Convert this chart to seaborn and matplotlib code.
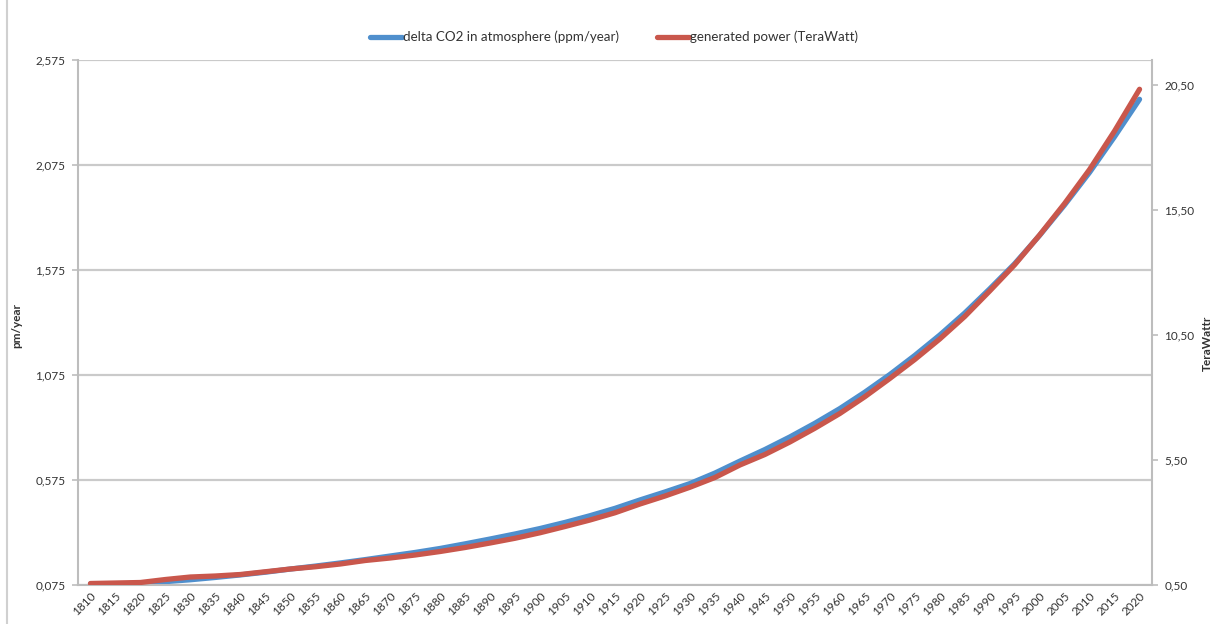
import numpy as np
import pandas as pd
import matplotlib
matplotlib.use("Agg")
import matplotlib.pyplot as plt
import seaborn as sns
from matplotlib.lines import Line2D

# === data ===
years = list(range(1810, 2021, 5))

co2_delta = [0.080, 0.080, 0.083, 0.091, 0.100, 0.111, 0.123, 0.136, 0.151, 0.165,
             0.180, 0.196, 0.213, 0.230, 0.249, 0.271, 0.294, 0.318, 0.344, 0.373,
             0.405, 0.440, 0.480, 0.518, 0.558, 0.608, 0.665, 0.720, 0.780, 0.845,
             0.915, 0.993, 1.077, 1.168, 1.265, 1.370, 1.485, 1.605, 1.740, 1.885,
             2.040, 2.210, 2.388]

power_tw = [0.56, 0.58, 0.60, 0.72, 0.82, 0.86, 0.92, 1.03, 1.14, 1.23,
            1.34, 1.48, 1.58, 1.70, 1.84, 2.00, 2.18, 2.37, 2.59, 2.84,
            3.10, 3.39, 3.74, 4.06, 4.41, 4.80, 5.30, 5.72, 6.22, 6.77,
            7.36, 8.03, 8.76, 9.52, 10.34, 11.24, 12.26, 13.31, 14.50, 15.76,
            17.12, 18.66, 20.33]

left_ticks = [0.075, 0.575, 1.075, 1.575, 2.075, 2.575]
left_labels = ["0,075", "0,575", "1,075", "1,575", "2,075", "2,575"]
right_ticks = [0.5, 5.5, 10.5, 15.5, 20.5]
right_labels = ["0,50", "5,50", "10,50", "15,50", "20,50"]

BLUE = "#4F8FCD"
RED = "#C9574C"
GRID = "#CACACA"
SPINE = "#BDBDBD"
TXT = "#333333"

df = pd.DataFrame({"year": [str(y) for y in years], "co2": co2_delta, "power": power_tw})

sns.set_style("white")
plt.rcParams["font.family"] = ["Lato", "DejaVu Sans"]

fig = plt.figure(figsize=(12.11, 6.24), dpi=100)
ax = fig.add_axes([0.0644, 0.0625, 0.8869, 0.8413])

sns.lineplot(data=df, x="year", y="co2", ax=ax, color=BLUE, lw=3.8,
             solid_capstyle="round", legend=False)
ax2 = ax.twinx()
sns.lineplot(data=df, x="year", y="power", ax=ax2, color=RED, lw=3.8,
             solid_capstyle="round", legend=False)

# --- left axis ---
ax.set_ylim(left_ticks[0], left_ticks[-1])
ax.set_yticks(left_ticks)
ax.set_yticklabels(left_labels)
ax.yaxis.grid(True, color=GRID, lw=1.6)
ax.set_axisbelow(True)
ax.set_ylabel("pm/year", fontweight="bold", fontsize=8.5, color=TXT)
ax.yaxis.set_label_coords(-0.052, 0.495)

# --- right axis ---
ax2.set_ylim(0.5, 21.5)
ax2.set_yticks(right_ticks)
ax2.set_yticklabels(right_labels)
ax2.set_ylabel("TeraWattr", fontweight="bold", fontsize=8.5, color=TXT)
ax2.yaxis.set_label_coords(1.046, 0.46)

# --- category x axis: marks between categories, labels on them ---
n = len(years)
ax.set_xlim(-0.5, n - 0.5)
ax.set_xticks(np.arange(-0.5, n, 1.0))
ax.set_xticklabels([])
ax.set_xticks(np.arange(n), minor=True)
ax.set_xticklabels([str(y) for y in years], minor=True, rotation=45,
                   ha="right", rotation_mode="anchor")
ax.set_xlabel("")

ax.tick_params(axis="x", which="major", length=4, width=1.2, color=SPINE, direction="out")
ax.tick_params(axis="x", which="minor", length=0, pad=4, labelsize=8.5, labelcolor=TXT)
ax.tick_params(axis="y", length=4, width=1.2, color=SPINE, labelsize=8.5,
               labelcolor=TXT, pad=5, left=True)
ax2.tick_params(axis="y", length=4, width=1.2, color=SPINE, labelsize=8.5,
                labelcolor=TXT, pad=5, right=True)

for a in (ax, ax2):
    a.spines["top"].set_visible(False)
    for s in ("left", "right", "bottom"):
        a.spines[s].set_color(SPINE)
        a.spines[s].set_linewidth(1.5)
ax2.spines["left"].set_visible(False)
ax2.spines["bottom"].set_visible(False)
ax.spines["right"].set_visible(False)

# --- legend on top ---
handles = [Line2D([], [], color=BLUE, lw=3.8), Line2D([], [], color=RED, lw=3.8)]
labels = ["delta CO2 in atmosphere (ppm/year)", "generated power (TeraWatt)"]
fig.legend(handles, labels, loc="center", bbox_to_anchor=(0.507, 1 - 37 / 624),
           ncol=2, frameon=False, fontsize=9.6, handlelength=2.4,
           handletextpad=0.1, columnspacing=2.8, labelcolor=TXT)

# chart area border on the left
fig.add_artist(Line2D([7 / 1211, 7 / 1211], [0, 1], color="#D0D0D0", lw=1.5))

fig.savefig("out.png", dpi=100)
